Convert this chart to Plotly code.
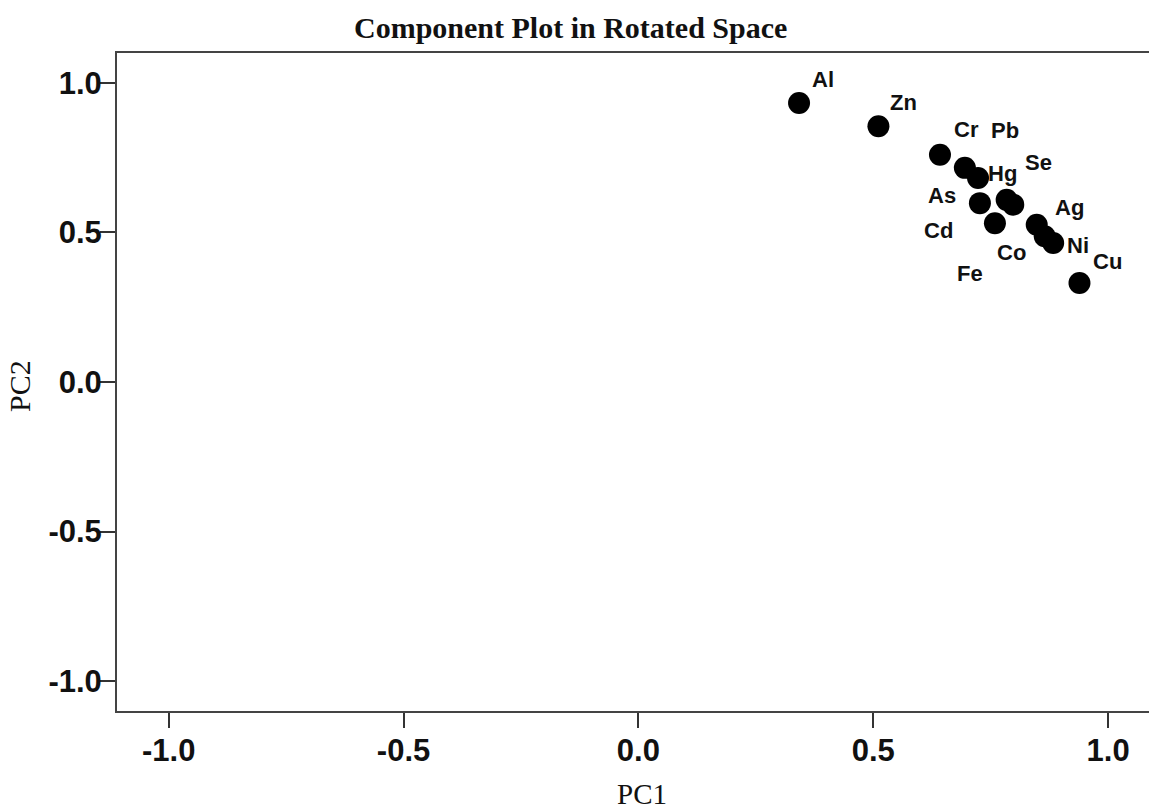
import plotly.graph_objects as go

# Rotated component loadings for each element
elements = ["Al", "Zn", "Cr", "As", "Pb", "Hg", "Se", "Co", "Cd", "Ag", "Fe", "Ni", "Cu"]
pc1 = [0.342, 0.511, 0.642, 0.695, 0.723, 0.727, 0.784, 0.798, 0.759, 0.848, 0.865, 0.883, 0.939]
pc2 = [0.933, 0.855, 0.760, 0.716, 0.682, 0.598, 0.609, 0.593, 0.531, 0.526, 0.487, 0.465, 0.331]

tick_vals = [-1.0, -0.5, 0.0, 0.5, 1.0]
tick_text = ["-1.0", "-0.5", "0.0", "0.5", "1.0"]

# Pixel offsets of each point label from its marker (dx right, dy up)
label_offsets = {
    "Al": (24, 23), "Zn": (25, 24), "Cr": (27, 25), "As": (-23, -28),
    "Pb": (27, 48), "Hg": (23, 30), "Se": (32, 37), "Co": (-2, -48),
    "Cd": (-56, -7), "Ag": (33, 17), "Fe": (-75, -37), "Ni": (25, -3),
    "Cu": (28, 22),
}

fig = go.Figure()
fig.add_trace(go.Scatter(
    x=pc1, y=pc2, mode="markers",
    marker=dict(size=22, color="black", line=dict(width=0)),
    hoverinfo="text", text=elements, showlegend=False,
))

label_font = dict(family="Liberation Sans, Arial, sans-serif", size=22, color="#111", weight="bold")
annotations = []
for name, x, y in zip(elements, pc1, pc2):
    dx, dy = label_offsets[name]
    annotations.append(dict(
        x=x, y=y, xref="x", yref="y", text=name, showarrow=False,
        xshift=dx, yshift=dy, xanchor="center", yanchor="middle", font=label_font,
    ))

serif = "Liberation Serif, Times New Roman, serif"
annotations += [
    dict(text="PC1", xref="paper", yref="paper", x=(642 - 117) / 1032, y=(711 - 812) / 658,
         showarrow=False, xanchor="center", yanchor="bottom",
         font=dict(family=serif, size=29, color="#111")),
    dict(text="PC2", xref="paper", yref="paper", x=(20 - 117) / 1032, y=(711 - 386) / 658,
         showarrow=False, xanchor="center", yanchor="middle", textangle=-90,
         font=dict(family=serif, size=30, color="#111")),
    dict(text="<b>Component Plot in Rotated Space</b>", xref="paper", yref="paper",
         x=(570 - 117) / 1032, y=(711 - 27) / 658,
         showarrow=False, xanchor="center", yanchor="middle",
         font=dict(family=serif, size=30, color="#111")),
]

tick_font = dict(family="Liberation Sans, Arial, sans-serif", size=31, color="#111", weight="bold")
axis_common = dict(
    tickvals=tick_vals, ticktext=tick_text, ticks="outside", ticklen=15, tickwidth=2,
    tickcolor="#333", showline=True, linecolor="#444", linewidth=2,
    showgrid=False, zeroline=False, tickfont=tick_font,
)

fig.update_layout(
    width=1149, height=811,
    margin=dict(l=117, r=0, t=53, b=100),
    paper_bgcolor="white", plot_bgcolor="white",
    xaxis=dict(range=[-1.11, 1.087], mirror=True, ticklabelstandoff=-4, **axis_common),
    yaxis=dict(range=[-1.1, 1.1], ticklabelstandoff=-8, **axis_common),
    annotations=annotations,
)

fig.write_html("out.html")
